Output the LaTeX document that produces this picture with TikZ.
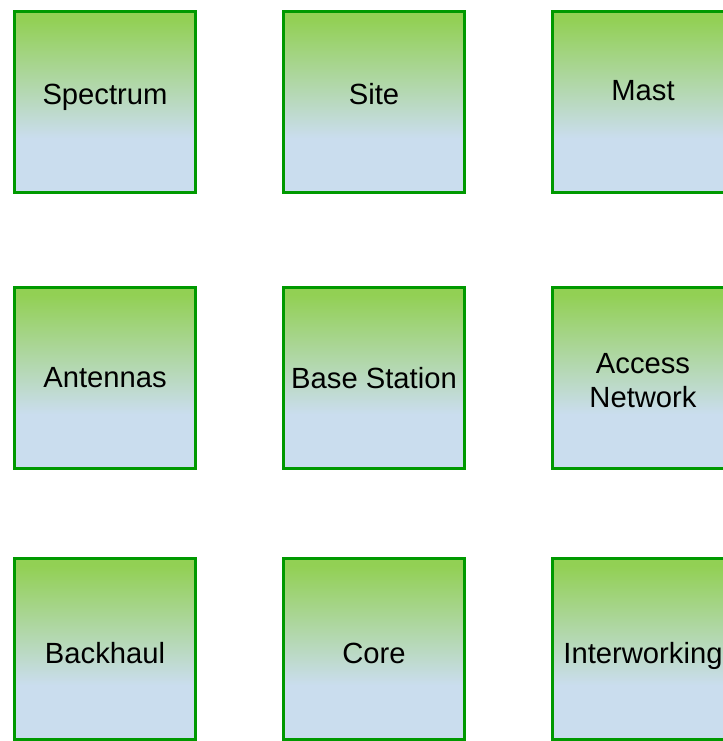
\documentclass[tikz,border=0pt]{standalone}
\usepackage{fontspec}
\setmainfont{Liberation Sans}
\usepackage{tikz}
\usetikzlibrary{positioning}
\definecolor{blockgreen}{RGB}{146,208,84}
\definecolor{blockblue}{RGB}{202,221,238}
\definecolor{blockedge}{RGB}{0,153,0}
% green at the top, fading into light blue at about two thirds of the way down
\pgfdeclareverticalshading{blockfade}{100bp}{color(0bp)=(blockblue); color(25bp)=(blockblue); color(40bp)=(blockblue); color(73bp)=(blockgreen); color(100bp)=(blockgreen)}
% pad the top of a label so it sits a little lower in its box
\newcommand{\padtop}[2]{\raisebox{0pt}[\dimexpr\height+#1\relax][\depth]{#2}}

\begin{document}
\begin{tikzpicture}[
    node distance=45pt and 42.5pt,
    block/.style={rectangle, draw=blockedge, line width=1.5pt, shading=blockfade,
        minimum width=90.5pt, minimum height=90.5pt, inner sep=0pt,
        font=\fontsize{14.6}{17}\selectfont, align=center}
]
    \useasboundingbox (0,0) rectangle (361.5pt,-370.5pt);

    \node[block] (spectrum) at (52.5pt,-51pt) {\raisebox{8pt}{Spectrum}};
    \node[block, right=of spectrum] (site) {\raisebox{8pt}{Site}};
    \node[block, right=of site] (mast) {\raisebox{12pt}{Mast}};

    \node[block, below=46pt of spectrum] (antennas) {Antennas};
    \node[block, right=of antennas] (basestation) {Base Station};
    \node[block, right=of basestation] (access) {\padtop{3pt}{Access}\\Network};

    \node[block, below=43.5pt of antennas] (backhaul) {\padtop{4pt}{Backhaul}};
    \node[block, right=of backhaul] (core) {\padtop{4pt}{Core}};
    \node[block, right=of core] (interworking) {\padtop{7pt}{Interworking}};
\end{tikzpicture}
\end{document}
